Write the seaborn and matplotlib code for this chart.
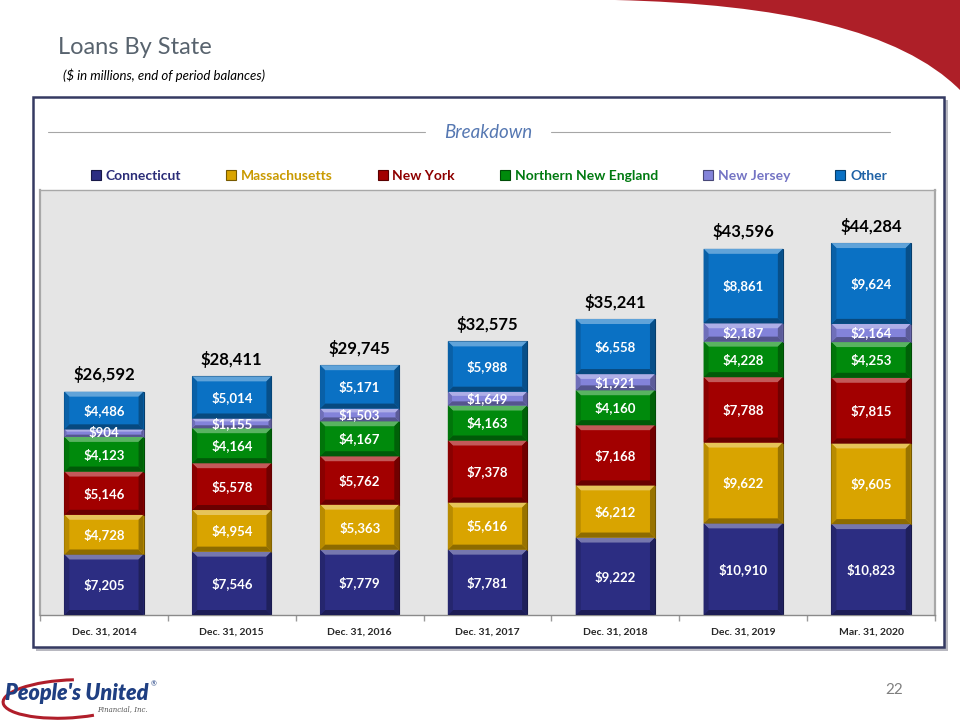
import numpy as np
import pandas as pd
import seaborn as sns
import matplotlib.pyplot as plt
from matplotlib.patches import Rectangle, Polygon, PathPatch, Arc
from matplotlib.path import Path
from matplotlib.colors import to_rgb

periods = ['Dec. 31, 2014', 'Dec. 31, 2015', 'Dec. 31, 2016', 'Dec. 31, 2017',
           'Dec. 31, 2018', 'Dec. 31, 2019', 'Mar. 31, 2020']
connecticut = [7205, 7546, 7779, 7781, 9222, 10910, 10823]
massachusetts = [4728, 4954, 5363, 5616, 6212, 9622, 9605]
new_york = [5146, 5578, 5762, 7378, 7168, 7788, 7815]
northern_ne = [4123, 4164, 4167, 4163, 4160, 4228, 4253]
new_jersey = [904, 1155, 1503, 1649, 1921, 2187, 2164]
other = [4486, 5014, 5171, 5988, 6558, 8861, 9624]
totals = [26592, 28411, 29745, 32575, 35241, 43596, 44284]

series = ['Connecticut', 'Massachusetts', 'New York', 'Northern New England', 'New Jersey', 'Other']
values = [connecticut, massachusetts, new_york, northern_ne, new_jersey, other]
bar_colors = ['#2C2D82', '#D9A400', '#A20000', '#008A0C', '#8383DA', '#0A71C4']
text_colors = ['#2B2D78', '#C99A00', '#8E0000', '#007A10', '#7474C4', '#1F62A6']


def mix(c, other_c, t):
    a = np.array(to_rgb(c))
    b = np.array(to_rgb(other_c))
    return tuple(a * (1 - t) + b * t)


sns.set_theme(style='white')
plt.rcParams['font.family'] = ['Lato', 'DejaVu Sans']
plt.rcParams['text.parse_math'] = False

fig = plt.figure(figsize=(9.6, 7.2), dpi=100)

# background decorations in pixel coords
bg = fig.add_axes([0, 0, 1, 1], zorder=-5)
bg.set_xlim(0, 960)
bg.set_ylim(720, 0)
bg.axis('off')

verts = [(615, 0), (780, 4), (900, 30), (960, 90), (960, 0), (615, 0)]
codes = [Path.MOVETO, Path.CURVE4, Path.CURVE4, Path.CURVE4, Path.LINETO, Path.CLOSEPOLY]
bg.add_patch(PathPatch(Path(verts, codes), facecolor='#AE1F28', edgecolor='none'))

bg.add_patch(Rectangle((36, 100), 912, 551, facecolor='#B8B8C0', edgecolor='none'))
bg.add_patch(Rectangle((33, 97), 911, 550, facecolor='white', edgecolor='#353A62', lw=1.8))
bg.plot([48, 425], [132, 132], color='#A6A6A6', lw=0.8)
bg.plot([551, 890], [132, 132], color='#A6A6A6', lw=0.8)

# logo
bg.add_patch(Arc((68, 699), 130, 38, angle=-3, theta1=35, theta2=290, color='#B01E2A', lw=2.2))
bg.text(5, 693, "People's United", fontsize=15.5, fontweight='heavy', fontstyle='italic',
        color='#1F3F82', va='center', ha='left')
bg.text(151, 684, '\u00ae', fontsize=5, color='#1F3F82', va='center')
bg.text(148, 709, 'Financial, Inc.', fontsize=5, fontstyle='italic', family='DejaVu Serif',
        color='#555555', va='center', ha='right')
bg.text(903, 690, '22', fontsize=11, color='#7F7F7F', va='center', ha='right')

fig.text(58 / 960, 1 - 48 / 720, 'Loans By State', fontsize=17, color='#58636E', va='center')
fig.text(63 / 960, 1 - 75 / 720, '($ in millions, end of period balances)', fontsize=9.5,
         fontstyle='italic', color='black', va='center')
fig.text(488 / 960, 1 - 132 / 720, 'Breakdown', fontsize=13.5, fontstyle='italic',
         color='#5678B2', va='center', ha='center')

ax = fig.add_axes([40 / 960, 105 / 720, 895 / 960, 425 / 720])
ax.set_facecolor('#E5E5E5')

df = pd.DataFrame({'period': periods})
for name, vals in zip(series, values):
    df[name] = vals

bottom = np.zeros(len(periods))
for name, col in zip(series, bar_colors):
    sns.barplot(data=df, x='period', y=name, color=col, saturation=1, width=0.62,
                bottom=bottom.copy(), edgecolor=mix(col, 'black', 0.45), linewidth=0.8,
                ax=ax, zorder=2)
    bottom += df[name].values

ax.set_xlim(-0.5, 6.5)
ax.set_ylim(0, 50600)

# bevel look on every segment
by_px = 5.0
ypp = 50600 / 425.0
xpp = 7.0 / 895.0
for cont in ax.containers:
    for p in cont.patches:
        x0, y0 = p.get_xy()
        w, h = p.get_width(), p.get_height()
        x1, y1 = x0 + w, y0 + h
        c = p.get_facecolor()
        by = min(by_px * ypp, h * 0.3)
        bx = by / ypp * xpp
        top = [(x0, y1), (x1, y1), (x1 - bx, y1 - by), (x0 + bx, y1 - by)]
        bot = [(x0, y0), (x1, y0), (x1 - bx, y0 + by), (x0 + bx, y0 + by)]
        lef = [(x0, y0), (x0 + bx, y0 + by), (x0 + bx, y1 - by), (x0, y1)]
        rig = [(x1, y0), (x1 - bx, y0 + by), (x1 - bx, y1 - by), (x1, y1)]
        for pts, shade in [(top, mix(c[:3], 'white', 0.35)), (bot, mix(c[:3], 'black', 0.35)),
                           (lef, mix(c[:3], 'black', 0.15)), (rig, mix(c[:3], 'black', 0.3))]:
            ax.add_patch(Polygon(pts, closed=True, facecolor=shade, edgecolor='none', zorder=3))

for cont, vals in zip(ax.containers, values):
    ax.bar_label(cont, labels=[f'${v:,}' for v in vals], label_type='center',
                 color='white', fontsize=9.5, fontweight='bold', zorder=5)
ax.bar_label(ax.containers[-1], labels=[f'${v:,}' for v in totals], padding=6,
             color='black', fontsize=12, fontweight='bold')

ax.set_xlabel('')
ax.set_ylabel('')
ax.set_yticks([])
ax.set_xticks(range(len(periods)))
ax.set_xticklabels(periods, fontsize=7.5, fontweight='bold')
ax.set_xticks(np.arange(-0.5, 7, 1), minor=True)
ax.tick_params(axis='x', which='major', length=0, pad=9)
ax.tick_params(axis='x', which='minor', length=4, color='#9A9A9A', bottom=True)
for s in ['top', 'right', 'left', 'bottom']:
    ax.spines[s].set_color('#A8A8A8')
    ax.spines[s].set_linewidth(1.0)
ax.spines['left'].set_linewidth(1.6)
ax.spines['right'].set_linewidth(1.6)
ax.spines['bottom'].set_color('#8A8A8A')

fig.legend(handles=list(ax.containers), labels=series, loc='center',
           bbox_to_anchor=(489 / 960, 1 - 176 / 720), ncol=6, frameon=False,
           labelcolor=text_colors, prop={'weight': 'bold', 'size': 10},
           handlelength=0.7, handleheight=0.7, handletextpad=0.35, columnspacing=3.25)

fig.savefig('out.png', dpi=100)
